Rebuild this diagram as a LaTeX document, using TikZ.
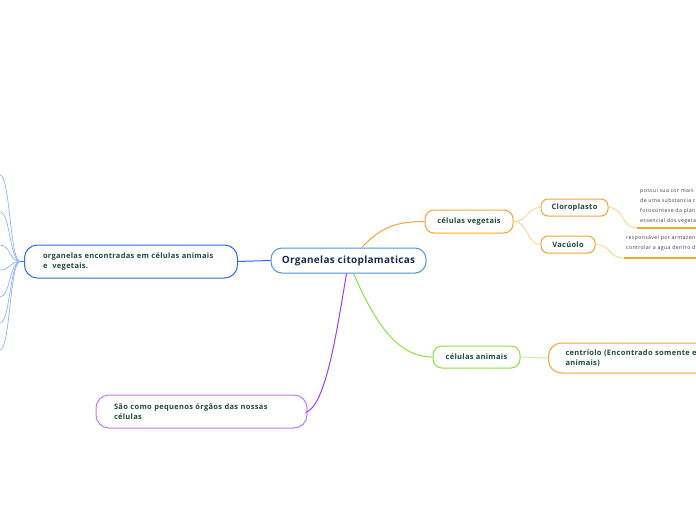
\documentclass[tikz,border=0pt]{standalone}
\usepackage{fontspec}
\setmainfont{Open Sans}
\definecolor{cblue}{HTML}{4D94DB}
\definecolor{navy}{HTML}{1B2B55}
\definecolor{lblue}{HTML}{2E6BF2}
\definecolor{lbluel}{HTML}{93B1FB}
\definecolor{orng}{HTML}{F6A430}
\definecolor{orngl}{HTML}{FCD08A}
\definecolor{grn}{HTML}{8CE23A}
\definecolor{grnl}{HTML}{C9F0A0}
\definecolor{prp}{HTML}{A43CF0}
\definecolor{prpl}{HTML}{C27CF5}
\definecolor{txt}{HTML}{1F4A3C}
\definecolor{stxt}{HTML}{444444}
\tikzset{
  box/.style={draw, line width=1pt, rounded corners=9pt, fill=white, inner sep=0pt, font=\bfseries\fontsize{7.5}{10}\selectfont\addfontfeatures{LetterSpace=4}, text=txt},
  bigbox/.style={box, rounded corners=13pt, align=left, inner xsep=18pt},
  small/.style={font=\fontsize{5.3}{10}\selectfont\addfontfeatures{LetterSpace=6}, text=stxt, align=left, anchor=north west, inner sep=0pt},
}
\begin{document}
\begin{tikzpicture}[x=1pt,y=-1pt]
\useasboundingbox (0,0) rectangle (696,520);
\clip (0,0) rectangle (696,520);
\fill[white] (0,0) rectangle (696,520);

% nodes
\node[box, draw=cblue, minimum width=155pt, minimum height=25pt, rounded corners=11pt, text=navy, font=\bfseries\fontsize{10}{12}\selectfont\addfontfeatures{LetterSpace=3}] (c) at (348.5,260.5) {Organelas citoplamaticas};
\node[bigbox, draw=lblue, minimum width=212pt, minimum height=33pt, text width=176pt, inner xsep=18.5pt] (l) at (131,261.5) {organelas encontradas em células animais\\e~~vegetais.};
\node[bigbox, draw=prpl, minimum width=211pt, minimum height=33pt, text width=175pt] (p) at (201.5,411.5) {São como pequenos órgãos das nossas\\células};
\node[box, draw=orng, minimum width=88pt, minimum height=23pt] (v) at (469,221.5) {células vegetais};
\node[box, draw=orng, minimum width=67pt, minimum height=17pt, rounded corners=7pt] (cl) at (574.5,207.5) {Cloroplasto};
\node[box, draw=orng, minimum width=54pt, minimum height=17pt, rounded corners=7pt] (va) at (568,244.5) {Vacúolo};
\node[box, draw=grn, minimum width=87pt, minimum height=22pt] (a) at (476.5,357) {células animais};
\node[bigbox, draw=orng, minimum width=220pt, minimum height=30pt, text width=186pt, inner xsep=17pt, anchor=west] (ce) at (548,358) {centríolo (Encontrado somente e\\animais)};

% small texts
\node[small] (t1) at (640,188.5) {possui sua cor mais\\de uma substancia c\\fotossíntese da plan\\essencial dos vegeta};
\node[small] (t2) at (626,235.5) {responsável por armazen\\controlar a agua dentro d};
\coordinate (u1a) at (637,228);
\coordinate (u1b) at (700,228);
\coordinate (u2a) at (624,258);
\coordinate (u2b) at (700,258);
\draw[orng, line width=1.5pt] (u1a) -- (u1b);
\draw[orng, line width=1.5pt] (u2a) -- (u2b);

% connectors
\draw[lblue, line width=1pt] (l.east) -- (c.west);
\draw[orng, line width=1pt] ([xshift=13pt]c.north) .. controls +(20,-20) and +(-30,0) .. (v.west);
\draw[grn, line width=1pt] ([xshift=5pt]c.south) .. controls +(22,50) and +(-35,0) .. (a.west);
\draw[prp, line width=1pt] ([xshift=-2pt]c.south) .. controls +(-10,60) and +(20,-6) .. ([xshift=-2pt,yshift=-1pt]p.east);
\draw[orngl, line width=0.8pt] (v.east) .. controls +(15,0) and +(-14,0) .. (cl.west);
\draw[orngl, line width=0.8pt] (v.east) .. controls +(15,0) and +(-14,0) .. (va.west);
\draw[orngl, line width=0.8pt] (cl.east) .. controls +(16,0) and +(-16,0) .. (u1a);
\draw[orngl, line width=0.8pt] (va.east) .. controls +(16,0) and +(-16,0) .. (u2a);
\draw[grnl, line width=1pt] (a.east) -- (ce.west);

% left fan
\coordinate (hub) at (20,261.5);
\draw[lblue, line width=1pt] (l.west) -- (hub);
\foreach \yy [count=\i] in {175,212,245,270,297,323,350} {
  \coordinate (e\i) at (0,\yy);
  \draw[lbluel, line width=0.7pt] (hub) .. controls (10,261.5) and (10,\yy) .. (e\i);
}
\end{tikzpicture}
\end{document}
